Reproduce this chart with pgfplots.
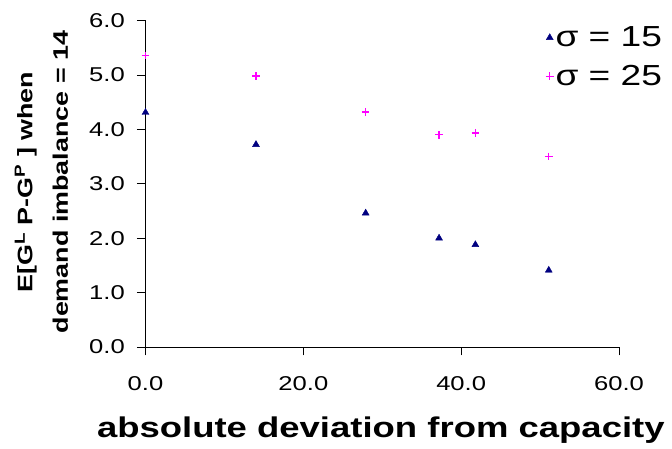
\documentclass[border=0pt]{standalone}
\usepackage{fontspec}
\setmainfont{Liberation Sans}[FakeStretch=1.28]
\usepackage{pgfplots}
\pgfplotsset{compat=1.18}
\definecolor{SeriesNavy}{HTML}{000080}
\definecolor{SeriesMagenta}{HTML}{FF00FF}

\begin{document}
\begin{tikzpicture}
\begin{axis}[
  set layers,
  at={(0,0)}, anchor=south west,
  scale only axis,
  width=473.5pt, height=326.5pt,
  xmin=0, xmax=60, ymin=0, ymax=6,
  clip=false,
  xtick={0,20,40,60},
  ytick={0,1,2,3,4,5,6},
  axis x line=bottom, axis y line=left,
  axis line style={-, line width=0.8pt},
  tick align=outside,
  major tick length=8.5pt,
  tick style={black, line width=0.8pt},
  /pgf/number format/assume math mode=true,
  tick label style={font=\fontsize{20}{24}\selectfont,
    /pgf/number format/fixed,
    /pgf/number format/fixed zerofill,
    /pgf/number format/precision=1},
  xticklabel style={anchor=north, inner sep=0pt},
  xticklabel shift=21pt,
  yticklabel style={anchor=east, inner sep=0pt},
  yticklabel shift=12pt,
  xlabel={absolute deviation from capacity},
  xlabel style={at={(axis description cs:0.497,-0.277)}, anchor=base,
    font=\bfseries\fontsize{28.5}{34}\selectfont},
  ylabel={E[G\textsuperscript{L} P-G\textsuperscript{P} ] when\\demand imbalance = 14},
  ylabel style={at={(axis description cs:-0.220,0.505)}, anchor=center,
    align=center, font=\bfseries\fontsize{21}{35.5}\selectfont},
  legend style={draw=none, fill=none, inner sep=0pt,
    at={(axis description cs:1.0956,0.987)}, anchor=north east,
    font=\fontsize{29}{33}\selectfont, row sep=13pt},
  legend cell align=left,
]
\addplot[only marks, mark=triangle*, mark size=4pt, color=SeriesNavy]
  coordinates {(0,4.31) (14,3.72) (27.9,2.46) (37.2,2.00) (41.8,1.88) (51.1,1.41)};
\addlegendentry{σ = 15}
\addplot[only marks, mark=+, mark size=3.8pt, color=SeriesMagenta,
  mark options={solid, draw=SeriesMagenta, line width=1.4pt}]
  coordinates {(0,5.36) (14,4.98) (27.9,4.32) (37.2,3.90) (41.8,3.93) (51.1,3.50)};
\addlegendentry{σ = 25}
\end{axis}
\pgfresetboundingbox
\useasboundingbox (-145.5pt,-102pt) rectangle (526.5pt,347pt);
\end{tikzpicture}
\end{document}
